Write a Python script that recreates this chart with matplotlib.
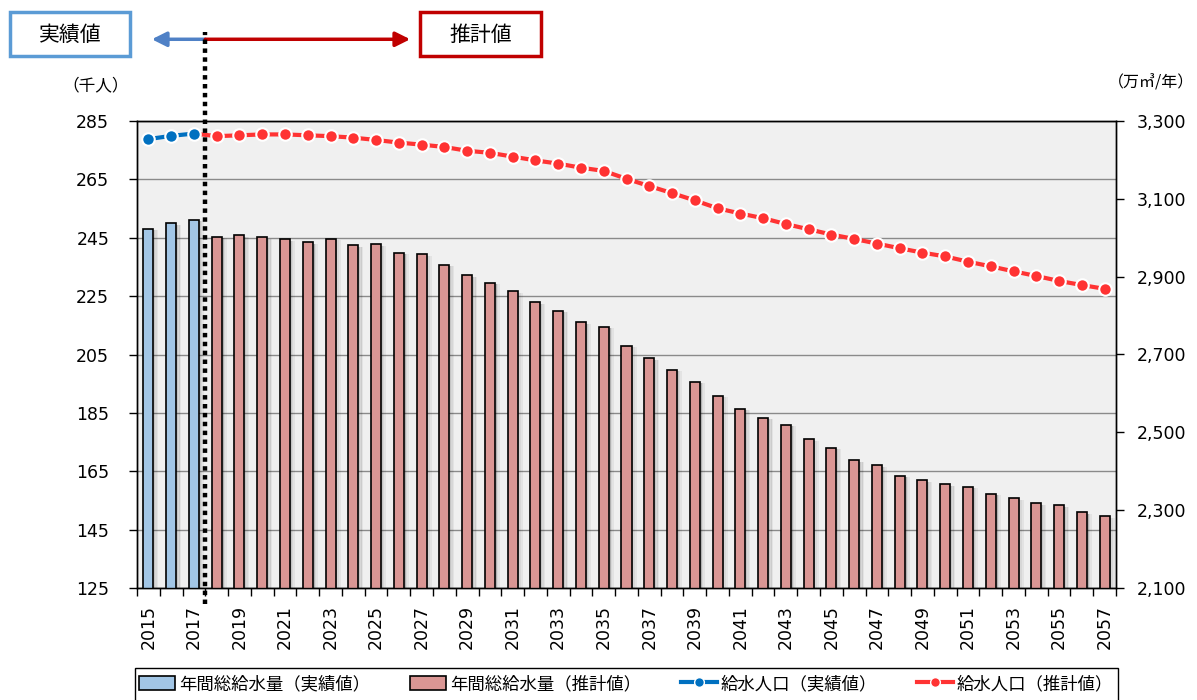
import matplotlib
matplotlib.use("Agg")
import matplotlib.pyplot as plt
from matplotlib.lines import Line2D
from matplotlib.patches import Patch, Rectangle
import numpy as np

JP = ["Noto Sans CJK JP", "DejaVu Sans"]
plt.rcParams["font.family"] = ["DejaVu Sans", "Noto Sans CJK JP"]

# data: years, annual water supply (万㎥/年), served population (千人)
years_actual = [2015, 2016, 2017]
years_est = list(range(2018, 2058))
years = years_actual + years_est

vol_actual = [3023, 3038, 3046]
vol_est = [3003, 3006, 3002, 2996, 2988, 2998, 2981, 2983, 2961, 2957,
           2931, 2903, 2885, 2862, 2834, 2813, 2783, 2771, 2723, 2691,
           2661, 2630, 2594, 2561, 2538, 2520, 2482, 2460, 2429, 2416,
           2388, 2377, 2366, 2360, 2342, 2330, 2318, 2312, 2295, 2285]

pop_actual = [278.8, 279.9, 280.7]
pop_est = [279.8, 280.1, 280.4, 280.4, 280.1, 279.8, 279.3, 278.5, 277.6, 276.9,
           276.1, 274.8, 274.1, 272.8, 271.5, 270.4, 269.0, 267.9, 265.2, 262.7,
           260.3, 257.8, 255.1, 253.3, 251.7, 249.7, 247.9, 246.1, 244.6, 243.0,
           241.4, 239.9, 238.6, 236.8, 235.2, 233.5, 231.9, 230.2, 228.8, 227.5]

left_ticks = list(range(125, 286, 20))
right_ticks = list(range(2100, 3301, 200))

c_bar_act = "#A2C6E6"
c_bar_est = "#DA9694"
c_line_act = "#0070C0"
c_line_est = "#FF3333"

fig = plt.figure(figsize=(11.97, 7.0), dpi=100)
ax = fig.add_axes([137 / 1197, 1 - 588 / 700, 979 / 1197, 467 / 700])
ax2 = ax.twinx()

idx = {y: i for i, y in enumerate(years)}
x_act = np.array([idx[y] for y in years_actual])
x_est = np.array([idx[y] for y in years_est])

# left axis: population lines, background and grid
ax.set_facecolor("#F0F0F0")
ax.set_ylim(125, 285)
ax.set_yticks(left_ticks)
ax.yaxis.grid(True, color="#8A8A8A", lw=1)
ax.set_axisbelow(True)
ax.plot([x_act[-1]] + list(x_est), [pop_actual[-1]] + pop_est, color=c_line_est,
        lw=3, marker="o", markevery=list(range(1, len(x_est) + 1)), ms=9,
        mfc=c_line_est, mec="white", mew=1.5, zorder=3)
ax.plot(x_act, pop_actual, color=c_line_act, lw=3, marker="o", ms=9,
        mfc=c_line_act, mec="white", mew=1.5, zorder=4)

# right axis: bars
bw = 0.44
ax2.set_ylim(2100, 3300)
ax2.set_yticks(right_ticks)
ax2.set_yticklabels([f"{v:,}" for v in right_ticks])
for xs, vs in [(x_act, vol_actual), (x_est, vol_est)]:
    for k, a in enumerate([0.18, 0.10, 0.05]):
        ax2.bar(xs + bw / 2 + 0.04 + k * 0.07, np.array(vs) - 2100 - 4, width=0.08,
                bottom=2100, color="black", alpha=a, lw=0, zorder=1)
ax2.bar(x_act, vol_actual, width=bw, color=c_bar_act, edgecolor="black", lw=1.2, zorder=2)
ax2.bar(x_est, vol_est, width=bw, color=c_bar_est, edgecolor="black", lw=1.2, zorder=2)

# x axis: category boundaries as ticks, labels every other year
ax.set_xlim(-0.5, len(years) - 0.5)
ax.set_xticks(np.arange(0, len(years), 2))
ax.set_xticklabels([str(y) for y in years[::2]], rotation=90)
ax.set_xticks(np.arange(-0.5, len(years), 1), minor=True)
ax.tick_params(axis="x", which="major", length=0, pad=12, labelsize=12.5)
ax.tick_params(axis="x", which="minor", length=6, width=1)
ax.tick_params(axis="y", length=6, width=1, pad=14, labelsize=12.5)
ax2.tick_params(axis="y", length=6, width=1, pad=9, labelsize=12.5)
for a in (ax, ax2):
    for s in a.spines.values():
        s.set_color("black")
        s.set_linewidth(1)

# boundary between actual and estimated
xb = len(years_actual) - 0.5
ax2.plot([xb, xb], [-0.035, 1.19], transform=ax2.get_xaxis_transform(),
         color="black", lw=3.2, linestyle=(0, (1, 1)), clip_on=False, zorder=6)
ax2.annotate("", xy=(0.15, 1.175), xytext=(xb, 1.175), xycoords=ax2.get_xaxis_transform(),
             arrowprops=dict(arrowstyle="-|>", color="#4F81C6", lw=2.5, mutation_scale=22,
                             shrinkA=0, shrinkB=0), annotation_clip=False)
ax2.annotate("", xy=(11.5, 1.175), xytext=(xb, 1.175), xycoords=ax2.get_xaxis_transform(),
             arrowprops=dict(arrowstyle="-|>", color="#C00000", lw=2.5, mutation_scale=22,
                             shrinkA=0, shrinkB=0), annotation_clip=False)

# header boxes
for x0, x1, txt, col in [(10, 130, "実績値", "#5B9BD5"), (420, 541, "推計値", "#C00000")]:
    fig.add_artist(Rectangle((x0 / 1197, 1 - 56 / 700), (x1 - x0) / 1197, 44 / 700,
                             transform=fig.transFigure, fill=False, ec=col, lw=2.5))
    fig.text((x0 + x1) / 2 / 1197, 1 - 35 / 700, txt, ha="center", va="center",
             fontsize=15, family=JP)

fig.text(96 / 1197, 1 - 86 / 700, "（千人）", ha="center", va="center", fontsize=12, family=JP)
fig.text(1194 / 1197, 1 - 83 / 700, "（万㎥/年）", ha="right", va="center", fontsize=11.5, family=JP)

# legend
handles = [
    Patch(facecolor=c_bar_act, edgecolor="black", lw=1.2),
    Patch(facecolor=c_bar_est, edgecolor="black", lw=1.2),
    Line2D([], [], color=c_line_act, lw=3, marker="o", ms=7, mfc=c_line_act, mec="white"),
    Line2D([], [], color=c_line_est, lw=3, marker="o", ms=7, mfc=c_line_est, mec="white"),
]
labels = ["年間総給水量（実績値）", "年間総給水量（推計値）", "給水人口（実績値）", "給水人口（推計値）"]
fig.add_artist(Rectangle((135 / 1197, -0.05), 983 / 1197, 0.05 + 32 / 700,
                         transform=fig.transFigure, fill=False, ec="black", lw=1))
fig.legend(handles, labels, loc="center", bbox_to_anchor=(626 / 1197, 1 - 684 / 700),
           ncol=4, frameon=False, prop={"family": JP, "size": 12.5},
           handlelength=2.1, handleheight=0.9, handletextpad=0.2, columnspacing=2.3)

fig.savefig("out.png", dpi=100)
